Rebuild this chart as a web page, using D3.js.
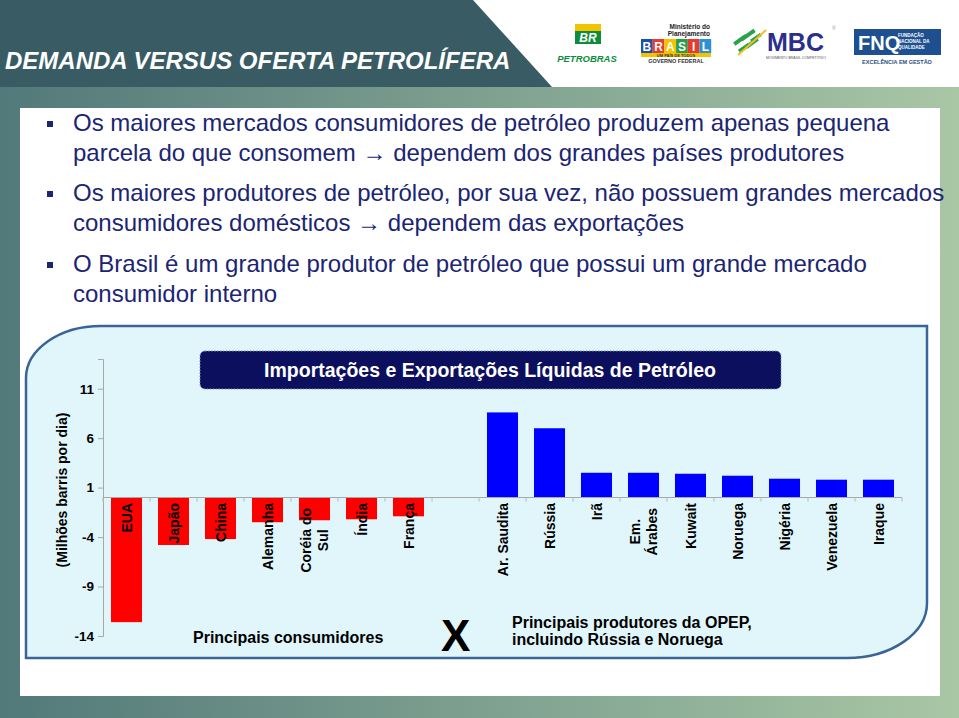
<!DOCTYPE html>
<html><head><meta charset="utf-8">
<script src="https://cdn.jsdelivr.net/npm/d3@7"></script>
<style>html,body{margin:0;padding:0;background:#fff;}svg{display:block;font-family:"Liberation Sans",Arial,sans-serif;}</style>
</head><body>
<svg id="c" width="959" height="718"></svg>
<script>
// ---- data ----
const consumers = ["EUA","Japão","China","Alemanha","Coréia do\nSul","Índia","França"];
const consumerValues = [-12.6,-4.8,-4.2,-2.5,-2.3,-2.2,-1.9];
const producers = ["Ar. Saudita","Rússia","Irã","Em.\nÁrabes","Kuwait","Noruega","Nigéria","Venezuela","Iraque"];
const producerValues = [8.6,7.0,2.5,2.5,2.4,2.2,1.9,1.8,1.8];
const yTicks = [-14,-9,-4,1,6,11];
const yDomain = [-14,14];
const slideTitle = "DEMANDA VERSUS OFERTA PETROLÍFERA";
const chartTitle = "Importações e Exportações Líquidas de Petróleo";
const yLabel = "(Milhões barris por dia)";
const bullets = [
  ["Os maiores mercados consumidores de petróleo produzem apenas pequena","parcela do que consomem → dependem dos grandes países produtores"],
  ["Os maiores produtores de petróleo, por sua vez, não possuem grandes mercados","consumidores domésticos → dependem das exportações"],
  ["O Brasil é um grande produtor de petróleo que possui um grande mercado","consumidor interno"]
];
const groupLabels = ["Principais consumidores", "Principais produtores da OPEP,\nincluindo Rússia e Noruega"];

const svg = d3.select("#c");
const defs = svg.append("defs");
const g1 = defs.append("linearGradient").attr("id","bg").attr("x1","0").attr("x2","1").attr("y1","0").attr("y2","0");
g1.append("stop").attr("offset","0").attr("stop-color","#52797a");
g1.append("stop").attr("offset","1").attr("stop-color","#a9c7a5");

// background
svg.append("rect").attr("x",0).attr("y",0).attr("width",959).attr("height",718).attr("fill","url(#bg)");
svg.append("rect").attr("x",0).attr("y",0).attr("width",959).attr("height",87).attr("fill","#fff");
svg.append("path").attr("d","M0,0L473,0L552,87L0,87Z").attr("fill","#385b64");
svg.append("rect").attr("x",20).attr("y",108).attr("width",920).attr("height",588).attr("fill","#fff");

svg.append("text").attr("x",5).attr("y",69).attr("fill","#fff").attr("font-size",24)
  .attr("font-weight","bold").attr("font-style","italic").text(slideTitle);

// logos
const lg = svg.append("g");
lg.append("rect").attr("x",575).attr("y",24).attr("width",26).attr("height",7).attr("fill","#f4c300");
lg.append("rect").attr("x",575).attr("y",31).attr("width",26).attr("height",13).attr("fill","#0d8c3c");
lg.append("text").attr("x",588).attr("y",42).attr("text-anchor","middle").attr("fill","#fff").attr("font-size",12).attr("font-weight","bold").attr("font-style","italic").text("BR");
lg.append("text").attr("x",587).attr("y",62).attr("text-anchor","middle").attr("fill","#0d8c3c").attr("font-size",9.5).attr("font-weight","bold").attr("font-style","italic").text("PETROBRAS");
lg.append("text").attr("x",710).attr("y",29).attr("text-anchor","end").attr("fill","#222").attr("font-size",6.5).attr("font-weight","bold").text("Ministério do");
lg.append("text").attr("x",710).attr("y",36).attr("text-anchor","end").attr("fill","#222").attr("font-size",6.5).attr("font-weight","bold").text("Planejamento");
const bcols = ["#1f4fa3","#e63b2e","#f4c300","#2a9d4a","#e63b2e","#2a92d4"];
"BRASIL".split("").forEach((ch,i)=>{
  lg.append("rect").attr("x",641+i*11.7).attr("y",39).attr("width",11.7).attr("height",14).attr("fill",bcols[i]);
  lg.append("text").attr("x",641+i*11.7+5.85).attr("y",51).attr("text-anchor","middle").attr("fill","#fff").attr("font-size",12).attr("font-weight","bold").text(ch);
});
lg.append("rect").attr("x",641).attr("y",53).attr("width",70).attr("height",4).attr("fill","#f4c300");
lg.append("text").attr("x",676).attr("y",56.5).attr("text-anchor","middle").attr("fill","#333").attr("font-size",4).attr("font-weight","bold").text("UM PAÍS DE TODOS");
lg.append("text").attr("x",676).attr("y",62.5).attr("text-anchor","middle").attr("fill","#333").attr("font-size",5.5).attr("font-weight","bold").text("GOVERNO FEDERAL");
// MBC
[[733,38,14,4],[740,33,16,4],[745,41,14,4],[738,46,12,4],[750,36,12,3.5]].forEach(d=>{
  lg.append("rect").attr("x",d[0]).attr("y",d[1]).attr("width",d[2]).attr("height",d[3]).attr("fill","#2aa24a").attr("transform",`rotate(-35 ${d[0]+d[2]/2} ${d[1]+d[3]/2})`);
});
lg.append("path").attr("d","M738,55 L766,30").attr("stroke","#f0c020").attr("stroke-width",2);
lg.append("text").attr("x",767).attr("y",51).attr("fill","#2b2f8c").attr("font-size",25).attr("font-weight","bold").text("MBC");
lg.append("text").attr("x",766).attr("y",59).attr("fill","#555").attr("font-size",3.5).text("MOVIMENTO BRASIL COMPETITIVO");
lg.append("text").attr("x",832).attr("y",30).attr("fill","#999").attr("font-size",5).text("®");
// FNQ
lg.append("rect").attr("x",854).attr("y",29).attr("width",87).attr("height",26).attr("fill","#1d4f91");
lg.append("text").attr("x",858).attr("y",50).attr("fill","#fff").attr("font-size",20).attr("font-weight","bold").text("FNQ");
["FUNDAÇÃO","NACIONAL DA","QUALIDADE"].forEach((t,i)=>lg.append("text").attr("x",898).attr("y",37+i*6).attr("fill","#fff").attr("font-size",4.5).attr("font-weight","bold").text(t));
lg.append("text").attr("x",897).attr("y",64).attr("text-anchor","middle").attr("fill","#2a4f7f").attr("font-size",5.5).attr("font-weight","bold").text("EXCELÊNCIA EM GESTÃO");

// bullets
const bulletBase = [131, 201, 272];
bullets.forEach((lines,i)=>{
  svg.append("rect").attr("x",47).attr("y",bulletBase[i]-10).attr("width",6).attr("height",6).attr("fill","#1b2573");
  lines.forEach((t,j)=>{
    svg.append("text").attr("x",73).attr("y",bulletBase[i]+j*30).attr("fill","#1b2573").attr("font-size",24).text(t);
  });
});

// chart frame
svg.append("path").attr("d","M26,378 A75,52 0 0 1 101,326 L927,326 L927,603 A80,55 0 0 1 847,658 L26,658 Z")
  .attr("fill","#e0f6fb").attr("stroke","#3a6497").attr("stroke-width",2.5);

// scales
const cats = [...consumers, "__gap__", ...producers];
const vals = [...consumerValues, null, ...producerValues];
const data = cats.map((c,i)=>({c, v: vals[i]})).filter(d=>d.v!==null);
const x = d3.scaleBand().domain(cats).range([103,902]).paddingInner(0.34).paddingOuter(0.17);
const y = d3.scaleLinear().domain(yDomain).range([636,359]);

// bars
svg.append("g").selectAll("rect").data(data).join("rect")
  .attr("x",d=>x(d.c)).attr("width",x.bandwidth())
  .attr("y",d=>y(Math.max(0,d.v))).attr("height",d=>Math.abs(y(d.v)-y(0)))
  .attr("fill",d=>d.v<0?"#ff0000":"#0000ff");

// y axis
const ya = svg.append("g").attr("transform","translate(103,0)")
  .call(d3.axisLeft(y).tickValues(yTicks).tickFormat(d=>String(d)).tickSize(5).tickPadding(4));
ya.select(".domain").attr("stroke","#a8a8a8");
ya.selectAll(".tick line").attr("stroke","#a8a8a8");
ya.selectAll(".tick text").attr("font-size",13.5).attr("font-weight","bold").attr("fill","#000").attr("font-family","Liberation Sans, Arial, sans-serif");

// x axis line at zero with boundary ticks
const xa = svg.append("g").attr("transform",`translate(0,${y(0)})`);
xa.append("line").attr("x1",103).attr("x2",902).attr("stroke","#a8a8a8");
const step = x.step();
d3.range(cats.length+1).forEach(i=>{
  const xx = x.range()[0] + i*step;
  xa.append("line").attr("x1",xx).attr("x2",xx).attr("y1",0).attr("y2",4).attr("stroke","#b8b8b8");
});

// category labels
const labTop = y(0)+5.5;
cats.forEach(c=>{
  if (c==="__gap__") return;
  const lines = c.split("\n");
  const cx = x(c)+x.bandwidth()/2;
  const g = svg.append("g").attr("transform",`translate(${cx},${labTop}) rotate(-90)`);
  if (lines.length===1){
    g.append("text").attr("x",0).attr("y",0).attr("dy","0.36em").attr("text-anchor","end")
      .attr("font-size",14).attr("font-weight","bold").attr("fill","#000").text(c);
  } else {
    const ts = lines.map((t,i)=>g.append("text").attr("text-anchor","middle").attr("font-size",14)
      .attr("font-weight","bold").attr("fill","#000").attr("y",(i-(lines.length-1)/2)*17).attr("dy","0.36em").text(t));
    const maxLen = d3.max(ts, t=>t.node().getComputedTextLength());
    ts.forEach(t=>t.attr("x",-(5+maxLen/2)));
  }
});

// y label
svg.append("text").attr("transform","translate(67,490) rotate(-90)").attr("text-anchor","middle")
  .attr("font-size",14).attr("font-weight","bold").attr("fill","#000").text(yLabel);

// chart title box
svg.append("rect").attr("x",200).attr("y",351).attr("width",581).attr("height",38).attr("rx",5)
  .attr("fill","#0c0f5e").attr("stroke","#8890b8").attr("stroke-width",1).attr("stroke-dasharray","1.5,1.5");
svg.append("text").attr("x",490).attr("y",377).attr("text-anchor","middle").attr("fill","#fff")
  .attr("font-size",19.5).attr("font-weight","bold").text(chartTitle);

// group annotations
svg.append("text").attr("x",193).attr("y",643).attr("font-size",16).attr("font-weight","bold").attr("fill","#000").text(groupLabels[0]);
svg.append("text").attr("x",441).attr("y",651).attr("font-size",44).attr("font-weight","bold").attr("fill","#000").text("X");
groupLabels[1].split("\n").forEach((t,i)=>svg.append("text").attr("x",512).attr("y",628+i*17).attr("font-size",16).attr("font-weight","bold").attr("fill","#000").text(t));
</script>
</body></html>
